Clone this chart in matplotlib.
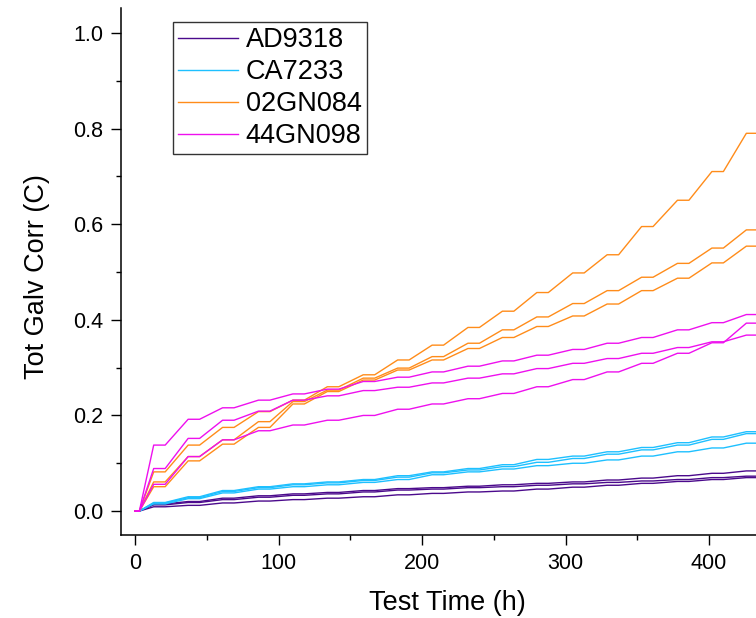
import matplotlib
matplotlib.use("Agg")
import matplotlib.pyplot as plt
from matplotlib.ticker import MultipleLocator, FormatStrFormatter

plt.rcParams['font.family'] = ['Liberation Sans', 'DejaVu Sans']

# Test time (h): start, then start/end of the daily flat portion of each step
flat_start = [13, 37, 61, 86, 110, 134, 159, 183, 207, 232, 256, 280, 305, 329, 353, 378, 402, 426]
flat_end = [21, 45, 69, 94, 118, 142, 167, 191, 215, 240, 264, 288, 313, 337, 361, 386, 410, 440]
t_start = [0, 3]

# Daily levels of total galvanic corrosion (C), three replicates per material
AD9318 = [
    [0.015, 0.020, 0.027, 0.032, 0.036, 0.039, 0.043, 0.047, 0.049, 0.052, 0.055, 0.058, 0.061, 0.065, 0.069, 0.074, 0.079, 0.084],
    [0.013, 0.018, 0.024, 0.029, 0.033, 0.036, 0.040, 0.044, 0.046, 0.049, 0.051, 0.054, 0.057, 0.060, 0.063, 0.066, 0.070, 0.073],
    [0.009, 0.012, 0.017, 0.021, 0.024, 0.027, 0.030, 0.034, 0.037, 0.040, 0.042, 0.046, 0.050, 0.054, 0.058, 0.062, 0.066, 0.070],
]
CA7233 = [
    [0.018, 0.030, 0.043, 0.051, 0.057, 0.061, 0.066, 0.074, 0.082, 0.089, 0.097, 0.108, 0.115, 0.124, 0.133, 0.143, 0.155, 0.166],
    [0.017, 0.028, 0.041, 0.049, 0.055, 0.059, 0.064, 0.071, 0.080, 0.086, 0.093, 0.102, 0.110, 0.119, 0.128, 0.138, 0.150, 0.162],
    [0.015, 0.026, 0.038, 0.046, 0.051, 0.055, 0.060, 0.066, 0.076, 0.082, 0.088, 0.095, 0.100, 0.107, 0.115, 0.124, 0.132, 0.142],
]
GN02084 = [
    [0.082, 0.138, 0.175, 0.208, 0.232, 0.260, 0.285, 0.316, 0.347, 0.384, 0.418, 0.457, 0.498, 0.536, 0.595, 0.650, 0.710, 0.790],
    [0.061, 0.114, 0.149, 0.187, 0.229, 0.253, 0.278, 0.299, 0.323, 0.351, 0.379, 0.406, 0.434, 0.461, 0.489, 0.518, 0.550, 0.588],
    [0.051, 0.105, 0.140, 0.175, 0.224, 0.250, 0.274, 0.295, 0.316, 0.340, 0.363, 0.386, 0.408, 0.433, 0.461, 0.487, 0.519, 0.554],
]
GN44098 = [
    [0.138, 0.192, 0.216, 0.232, 0.245, 0.255, 0.271, 0.280, 0.291, 0.303, 0.314, 0.326, 0.338, 0.351, 0.363, 0.379, 0.394, 0.411],
    [0.089, 0.152, 0.190, 0.209, 0.232, 0.241, 0.252, 0.259, 0.268, 0.278, 0.287, 0.298, 0.309, 0.319, 0.330, 0.342, 0.354, 0.368],
    [0.056, 0.114, 0.149, 0.168, 0.180, 0.190, 0.200, 0.213, 0.224, 0.235, 0.246, 0.260, 0.275, 0.291, 0.309, 0.330, 0.352, 0.393],
]

names = ['AD9318', 'CA7233', '02GN084', '44GN098']
groups = [AD9318, CA7233, GN02084, GN44098]
colors = ['#4b0a8c', '#1ec0ff', '#ff8c1a', '#ee10ee']

times = list(t_start)
for a, b in zip(flat_start, flat_end):
    times += [a, b]


def series(levels):
    ys = [0.0, 0.0]
    for v in levels:
        ys += [v, v]
    return ys


W, H = 756, 618
fig = plt.figure(figsize=(W / 100, H / 100), dpi=100)
ax_left, ax_right, ax_top, ax_bottom = 120.7, 773.6, 8.0, 535.0
ax = fig.add_axes([ax_left / W, 1 - ax_bottom / H, (ax_right - ax_left) / W, (ax_bottom - ax_top) / H])

for name, grp, col in zip(names, groups, colors):
    for i, lv in enumerate(grp):
        ax.plot(times, series(lv), color=col, lw=1.0, label=name if i == 0 else None)

ax.set_xlim(-10, 445)
ax.set_ylim(-0.05, 1.052)
ax.xaxis.set_major_locator(MultipleLocator(100))
ax.xaxis.set_minor_locator(MultipleLocator(50))
ax.yaxis.set_major_locator(MultipleLocator(0.2))
ax.yaxis.set_minor_locator(MultipleLocator(0.1))
ax.yaxis.set_major_formatter(FormatStrFormatter('%.1f'))

for s in ['top', 'right']:
    ax.spines[s].set_visible(False)
for s in ['left', 'bottom']:
    ax.spines[s].set_linewidth(1.1)
ax.tick_params(which='major', direction='out', length=7.2, width=1.0, labelsize=15.5, pad=5.5)
ax.tick_params(which='minor', direction='out', length=3.6, width=1.0)

ax.set_xlabel('Test Time (h)', fontsize=19.5, va='center')
ax.xaxis.set_label_coords((447 - ax_left) / (ax_right - ax_left), -(603 - ax_bottom) / (ax_bottom - ax_top))
ax.set_ylabel('Tot Galv Corr (C)', fontsize=19.5, va='center')
ax.yaxis.set_label_coords(-(ax_left - 37) / (ax_right - ax_left), 0.49)

leg = ax.legend(loc='upper left', bbox_to_anchor=(172.7 / W, 1 - 21.7 / H), bbox_transform=fig.transFigure,
                borderaxespad=0, fontsize=19.5, handlelength=2.2, handletextpad=0.3, labelspacing=0.22,
                borderpad=0.2, fancybox=False, framealpha=1, edgecolor='#333333')
leg.get_frame().set_linewidth(1.0)

fig.savefig('out.png', dpi=100)
